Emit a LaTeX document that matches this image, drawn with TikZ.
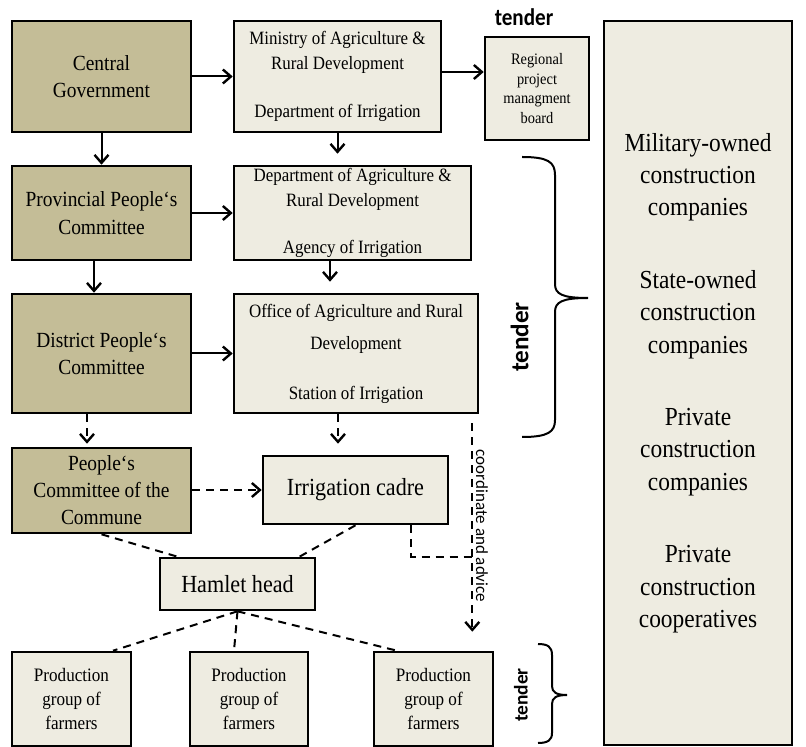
\documentclass[tikz,border=0pt]{standalone}
\usepackage{fontspec}
\setmainfont{Liberation Serif}[FakeStretch=0.9]
\newfontfamily\tenderfont{Carlito}[FakeStretch=0.88]
\newfontfamily\sidefont{Carlito}
\usepackage{xcolor}
\usepackage{tikz}
\usetikzlibrary{arrows.meta}

\definecolor{govfill}{HTML}{C4BD97}
\definecolor{agencyfill}{HTML}{EEECE1}

\tikzset{
  govbox/.style={draw, line width=1.3pt, fill=govfill, align=center, inner sep=1pt},
  agencybox/.style={draw, line width=1.3pt, fill=agencyfill, align=center, inner sep=1pt},
  txt/.style 2 args={font=\fontsize{#1}{#2}\selectfont},
  arr/.style={line width=1pt, -{Straight Barb[length=4pt,width=7pt,line width=1.2pt]}},
  dline/.style={line width=1pt, dash pattern=on 4pt off 3pt},
  darr/.style={arr, dash pattern=on 4pt off 3pt},
  brc/.style={line width=1pt}
}

\begin{document}
\begin{tikzpicture}[x=0.5pt, y=-0.5pt]
  \useasboundingbox (0,0) rectangle (806,747);

  % government side
  \node[govbox, txt={10.8}{13.8}, minimum width=89.5pt, minimum height=55.5pt] (central) at (101.5,76.5) {Central\\Government};
  \node[govbox, txt={10.8}{13.8}, minimum width=89.5pt, minimum height=47pt] (provincial) at (101.5,213) {Provincial People‘s\\Committee};
  \node[govbox, txt={10.8}{13.8}, minimum width=89.5pt, minimum height=59.5pt] (district) at (101.5,353.5) {District People‘s\\Committee};
  \node[govbox, txt={10.8}{13.5}, minimum width=89.5pt, minimum height=42.5pt] (commune) at (101.5,490.5) {People‘s\\Committee of the\\Commune};

  % agencies
  \node[agencybox, txt={9.4}{12.3}, minimum width=103.5pt, minimum height=55.5pt] (ministry) at (337.5,76.5) {Ministry of Agriculture \&\\Rural Development\\[12pt]Department of Irrigation};
  \node[agencybox, txt={8}{9.8}, minimum width=52pt, minimum height=51.5pt] (regional) at (537,88.5) {Regional\\project\\managment\\board};
  \node[agencybox, txt={9.4}{12.3}, minimum width=118.5pt, minimum height=47pt] (deptagri) at (352.5,213) {Department of Agriculture \&\\Rural Development\\[11.5pt]Agency of Irrigation};
  \node[agencybox, txt={9.4}{16}, minimum width=122pt, minimum height=59.5pt] (office) at (356,353.5) {Office of Agriculture and Rural\\Development\\[9pt]Station of Irrigation};
  \node[agencybox, txt={12.3}{14}, minimum width=92.5pt, minimum height=34pt] (cadre) at (355.5,490) {Irrigation cadre};
  \node[agencybox, txt={12.3}{14}, minimum width=77.5pt, minimum height=26pt] (hamlet) at (237.5,584) {Hamlet head};

  % farmers
  \node[agencybox, txt={9.5}{12}, minimum width=59.5pt, minimum height=47pt] (prod1) at (71.5,699) {Production\\group of\\farmers};
  \node[agencybox, txt={9.5}{12}, minimum width=59pt, minimum height=47pt] (prod2) at (249,699) {Production\\group of\\farmers};
  \node[agencybox, txt={9.5}{12}, minimum width=59.5pt, minimum height=47pt] (prod3) at (433.5,699) {Production\\group of\\farmers};

  % contractors
  \node[agencybox, txt={13}{16.2}, minimum width=94pt, minimum height=362pt] (contractors) at (698,383)
    {Military-owned\\construction\\companies\\[20pt]State-owned\\construction\\companies\\[20pt]Private\\construction\\companies\\[20pt]Private\\construction\\cooperatives};

  % tender labels
  \node[font=\tenderfont\bfseries\fontsize{12}{14}\selectfont] (tendertop) at (524,17) {tender};
  \node[font=\sidefont\bfseries\fontsize{12.6}{14}\selectfont, rotate=90] (tendermid) at (519.5,337) {tender};
  \node[font=\sidefont\bfseries\fontsize{9.7}{12}\selectfont, rotate=90] (tenderlow) at (521,695) {tender};
  \node[font=\sidefont\fontsize{8.5}{10}\selectfont, rotate=-90] (advtext) at (482,526) {coordinate and advice};

  % helper points
  \coordinate (mr) at ([yshift=2.25pt]ministry.east);
  \coordinate (pd) at ([xshift=-3.75pt]provincial.south);
  \coordinate (dd) at ([xshift=-11.25pt]deptagri.south);
  \coordinate (dsd) at ([xshift=-7.25pt]district.south);
  \coordinate (od) at ([xshift=-9pt]office.south);
  \coordinate (cd) at ([xshift=27.75pt]cadre.south);
  \coordinate (adv) at ([xshift=-3.5pt]office.south east);

  % solid arrows
  \draw[arr] (central) -- (ministry);
  \draw[arr] (mr) -- (mr -| regional.west);
  \draw[arr] (central) -- (provincial);
  \draw[arr, shorten >=5.5pt] (ministry.south) -- (ministry.south |- deptagri.north);
  \draw[arr] (provincial) -- (deptagri);
  \draw[arr] (pd) -- (pd |- district.north);
  \draw[arr, shorten >=5.5pt] (dd) -- (dd |- office.north);
  \draw[arr] (district) -- (office);

  % dashed links
  \draw[darr, shorten >=1.5pt] (dsd) -- (dsd |- commune.north);
  \draw[darr, shorten >=5.5pt] (od) -- (od |- cadre.north);
  \draw[darr] (commune.east |- cadre.west) -- (cadre.west);
  \draw[dline] (commune.south) -- ([xshift=-30pt]hamlet.north);
  \draw[dline] (cadre.south) -- ([xshift=31pt]hamlet.north);
  \draw[dline] (hamlet.south) -- ([xshift=20.75pt]prod1.north);
  \draw[dline] (hamlet.south) -- ([xshift=-7.5pt]prod2.north);
  \draw[dline] (hamlet.south) -- ([xshift=-18.25pt]prod3.north);
  \draw[dline] (cd) -- (cd |- hamlet.north) -- (adv |- hamlet.north);
  \draw[darr, shorten <=4.5pt, shorten >=9.5pt] (adv) -- (adv |- prod3.north);

  % braces
  \draw[brc] (522,157) .. controls (548,157) and (555,162) .. (555,175) -- (555,284)
    .. controls (555,294) and (562,298) .. (588,298)
    .. controls (562,298) and (555,302) .. (555,312) -- (555,420)
    .. controls (555,432) and (548,437) .. (522,437);
  \draw[brc] (538,644) .. controls (548,644) and (552,647) .. (552,655) -- (552,686)
    .. controls (552,692) and (556,695) .. (567,695)
    .. controls (556,695) and (552,698) .. (552,704) -- (552,733)
    .. controls (552,740) and (548,743) .. (538,743);
\end{tikzpicture}
\end{document}
